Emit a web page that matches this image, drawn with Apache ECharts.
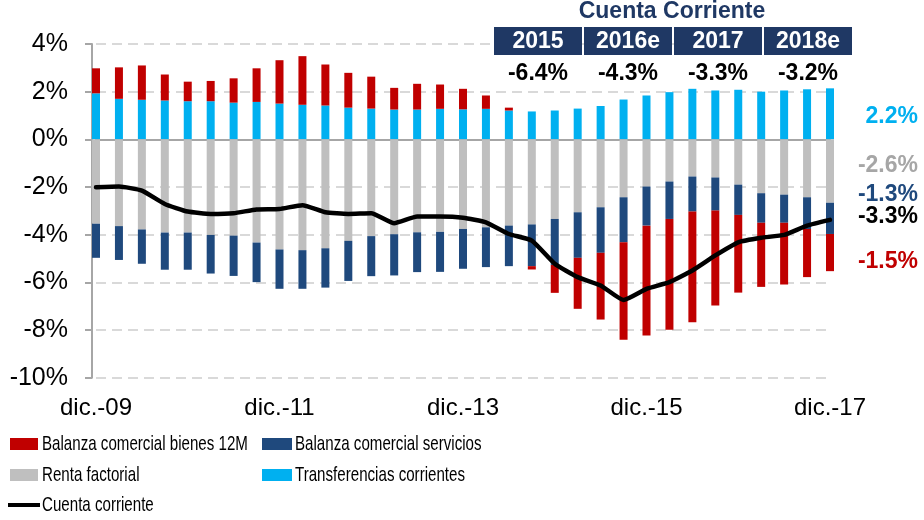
<!DOCTYPE html>
<html><head><meta charset="utf-8">
<script src="https://cdn.jsdelivr.net/npm/echarts@6/dist/echarts.min.js"></script>
<style>html,body{margin:0;padding:0;background:#fff}#c{width:924px;height:520px}</style>
</head><body><div id="c"></div>
<script>
var categories = ['dic.-09','mar.-10','jun.-10','sept.-10','dic.-10','mar.-11','jun.-11','sept.-11','dic.-11','mar.-12','jun.-12','sept.-12','dic.-12','mar.-13','jun.-13','sept.-13','dic.-13','mar.-14','jun.-14','sept.-14','dic.-14','mar.-15','jun.-15','sept.-15','dic.-15','mar.-16','jun.-16','sept.-16','dic.-16','mar.-17','jun.-17','sept.-17','dic.-17'];
var transferencias = [1.93,1.70,1.66,1.63,1.60,1.60,1.54,1.57,1.50,1.45,1.42,1.33,1.29,1.25,1.25,1.28,1.26,1.28,1.21,1.17,1.21,1.29,1.40,1.67,1.84,1.98,2.12,2.05,2.08,2.00,2.05,2.10,2.14];
var bienes = [1.05,1.32,1.44,1.09,0.82,0.85,1.02,1.41,1.82,2.04,1.72,1.46,1.34,0.91,1.08,1.02,0.86,0.56,0.12,-0.14,-1.17,-2.14,-2.80,-4.09,-4.61,-4.65,-4.64,-3.98,-3.26,-2.69,-2.59,-2.02,-1.56];
var renta = [-3.54,-3.64,-3.78,-3.91,-3.91,-4.01,-4.04,-4.33,-4.62,-4.65,-4.57,-4.26,-4.06,-3.98,-3.90,-3.88,-3.76,-3.69,-3.62,-3.57,-3.34,-3.06,-2.85,-2.43,-1.98,-1.77,-1.56,-1.60,-1.90,-2.26,-2.32,-2.43,-2.66];
var servicios = [-1.43,-1.42,-1.44,-1.56,-1.56,-1.62,-1.69,-1.66,-1.65,-1.62,-1.65,-1.68,-1.68,-1.73,-1.67,-1.68,-1.67,-1.67,-1.70,-1.75,-1.93,-1.91,-1.91,-1.89,-1.64,-1.57,-1.47,-1.39,-1.27,-1.24,-1.18,-1.33,-1.31];
var cuentaCorriente = [-2.01,-1.98,-2.15,-2.71,-3.03,-3.13,-3.10,-2.94,-2.92,-2.76,-3.06,-3.13,-3.10,-3.52,-3.24,-3.24,-3.29,-3.48,-3.97,-4.25,-5.22,-5.78,-6.13,-6.74,-6.27,-5.99,-5.50,-4.87,-4.32,-4.13,-4.01,-3.62,-3.38];
var annualYears = ['2015','2016e','2017','2018e'];
var annualValues = ['-6.4%','-4.3%','-3.3%','-3.2%'];
var lastLabels = ['2.2%','-2.6%','-1.3%','-3.3%','-1.5%'];
var seriesNames = ['Balanza comercial bienes 12M','Balanza comercial servicios','Renta factorial','Transferencias corrientes','Cuenta corriente'];

var FONT = '"Liberation Sans", Arial, sans-serif';
var C_RED = '#c00000', C_NAVY = '#1f497d', C_GREY = '#bfbfbf', C_CYAN = '#00b0f0', C_HEAD = '#1f3864';

var chart = echarts.init(document.getElementById('c'), null, {renderer:'canvas'});

var graphics = [];
graphics.push({type:'text', z:20, style:{text:'Cuenta Corriente', x:672, y:12, textAlign:'center', textVerticalAlign:'middle', font:'bold 23px '+FONT, fill:C_HEAD}});
var boxX = [494,584,674,764];
for (var k=0;k<annualYears.length;k++){
  graphics.push({type:'rect', z:20, shape:{x:boxX[k], y:27, width:88, height:28}, style:{fill:C_HEAD}});
  graphics.push({type:'text', z:21, style:{text:annualYears[k], x:boxX[k]+44, y:42, textAlign:'center', textVerticalAlign:'middle', font:'bold 23px '+FONT, fill:'#ffffff'}});
  graphics.push({type:'text', z:20, style:{text:annualValues[k], x:boxX[k]+44, y:74, textAlign:'center', textVerticalAlign:'middle', font:'bold 23px '+FONT, fill:'#000000'}});
}
var lastY = [117,166,195,217,262];
var lastC = [C_CYAN,'#a6a6a6',C_NAVY,'#000000',C_RED];
for (var m=0;m<lastLabels.length;m++){
  graphics.push({type:'text', z:20, style:{text:lastLabels[m], x:918, y:lastY[m], textAlign:'right', textVerticalAlign:'middle', font:'bold 23px '+FONT, fill:lastC[m]}});
}
// legend texts (condensed look via horizontal scale)
var legTextPos = [[42,444],[295,444],[42,475],[295,475],[42,505]];
for (var n=0;n<seriesNames.length;n++){
  graphics.push({type:'text', z:20, x:legTextPos[n][0], y:legTextPos[n][1], scaleX:0.72, scaleY:1,
    style:{text:seriesNames[n], x:0, y:0, textAlign:'left', textVerticalAlign:'middle', font:'21px '+FONT, fill:'#000'}});
}

function legendAt(item, left, top, w, h){
  return {data:[item], left:left, top:top, itemWidth:w, itemHeight:h, itemGap:0, selectedMode:false,
    padding:0, formatter:function(){return '';}, textStyle:{fontSize:1}};
}

var option = {
  animation:false,
  backgroundColor:'#ffffff',
  grid:{left:96, right:94, top:44, bottom:142.3, containLabel:false},
  legend:[
    legendAt({name:seriesNames[0], icon:'rect'}, 10, 438, 28, 12),
    legendAt({name:seriesNames[1], icon:'rect'}, 262, 438, 30, 12),
    legendAt({name:seriesNames[2], icon:'rect'}, 10, 469, 28, 12),
    legendAt({name:seriesNames[3], icon:'rect'}, 262, 469, 30, 12),
    legendAt({name:seriesNames[4], icon:'rect'}, 8, 503, 32, 4)
  ],
  xAxis:[
    {type:'category', data:categories, boundaryGap:false, position:'top',
      axisLine:{show:true, onZero:true, lineStyle:{color:'#a6a6a6', width:2}},
      axisTick:{show:true, inside:true, length:7, interval:7, lineStyle:{color:'#a6a6a6', width:2}},
      axisLabel:{show:false}, splitLine:{show:false}},
    {type:'category', data:categories, boundaryGap:false, position:'bottom',
      axisLine:{show:false, onZero:false}, axisTick:{show:false},
      axisLabel:{show:true, interval:7, margin:19, fontFamily:FONT, fontSize:24, color:'#000'},
      splitLine:{show:false}}
  ],
  yAxis:{type:'value', min:-10, max:4, interval:2, offset:4,
    axisLine:{show:true, lineStyle:{color:'#a6a6a6', width:2}},
    axisTick:{show:true, length:7, lineStyle:{color:'#a6a6a6', width:2}},
    axisLabel:{formatter:function(v){return v+'%';}, margin:24, fontFamily:FONT, fontSize:25, color:'#000'},
    splitLine:{show:true, lineStyle:{color:'#d9d9d9', width:2, type:[10,6]}}
  },
  series:[
    {name:seriesNames[3], type:'bar', stack:'cc', data:transferencias, barWidth:8, itemStyle:{color:C_CYAN}},
    {name:seriesNames[2], type:'bar', stack:'cc', data:renta, barWidth:8, itemStyle:{color:C_GREY}},
    {name:seriesNames[1], type:'bar', stack:'cc', data:servicios, barWidth:8, itemStyle:{color:C_NAVY}},
    {name:seriesNames[0], type:'bar', stack:'cc', data:bienes, barWidth:8, itemStyle:{color:C_RED}},
    {name:seriesNames[4], type:'line', data:cuentaCorriente, symbol:'none', smooth:0.15, z:5,
      lineStyle:{color:'#000', width:4.5, cap:'round', join:'round'}, itemStyle:{color:'#000'}}
  ],
  graphic:graphics
};
chart.setOption(option);
</script></body></html>
